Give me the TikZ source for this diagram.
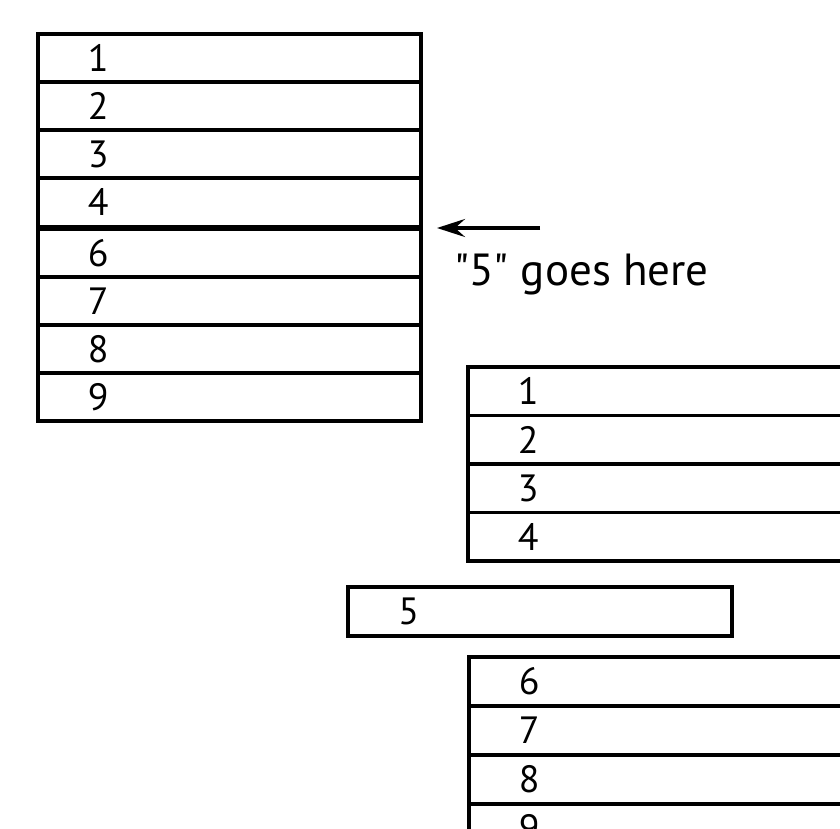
\documentclass[tikz,border=0pt]{standalone}
\usepackage{fontspec}
\setmainfont{PT Sans}
\newfontfamily\plainqfont{PT Sans}[Ligatures=TeXOff]
\usetikzlibrary{arrows.meta}
\begin{document}
\begin{tikzpicture}[x=1pt,y=-1pt,
  cell/.style={draw=black, line width=3.5pt, anchor=north west,
    minimum width=383pt, minimum height=48pt, inner xsep=0pt, inner ysep=0pt,
    text width=283pt, align=left, font=\fontsize{38}{40}\selectfont},
  lbl/.style={anchor=base west, inner sep=0pt, font=\plainqfont\fontsize{45}{48}\selectfont},
  pointer/.style={line width=3.5pt, -{Stealth[length=28pt,width=18pt,inset=10pt]}}]
\useasboundingbox (0,0) rectangle (840,829);
\clip (0,0) rectangle (840,829);
% left stack
\foreach \n/\i in {1/0,2/1,3/2,4/3}{
  \node[cell] (L\n) at (36,32.5+48*\i) {\n};
}
\foreach \n/\i in {6/0,7/1,8/2,9/3}{
  \node[cell] (L\n) at (36,227+48*\i) {\n};
}
% arrow and label
\coordinate (as) at (540,228);
\coordinate (ae) at (437,228);
\draw[pointer] (as) -- (ae);
\node[lbl] (note) at (454,285) {"5" goes here};
% right upper stack
\foreach \n/\i in {1/0,2/1,3/2,4/3}{
  \node[cell, minimum height=48.5pt] (R\n) at (466,365+48.5*\i) {\n};
}
% box 5
\node[cell, minimum width=384pt, minimum height=49pt] (B5) at (346,585) {5};
% right lower stack
\foreach \n/\i in {6/0,7/1,8/2,9/3}{
  \node[cell, minimum height=49pt] (S\n) at (467,655+49*\i) {\n};
}
\end{tikzpicture}
\end{document}
